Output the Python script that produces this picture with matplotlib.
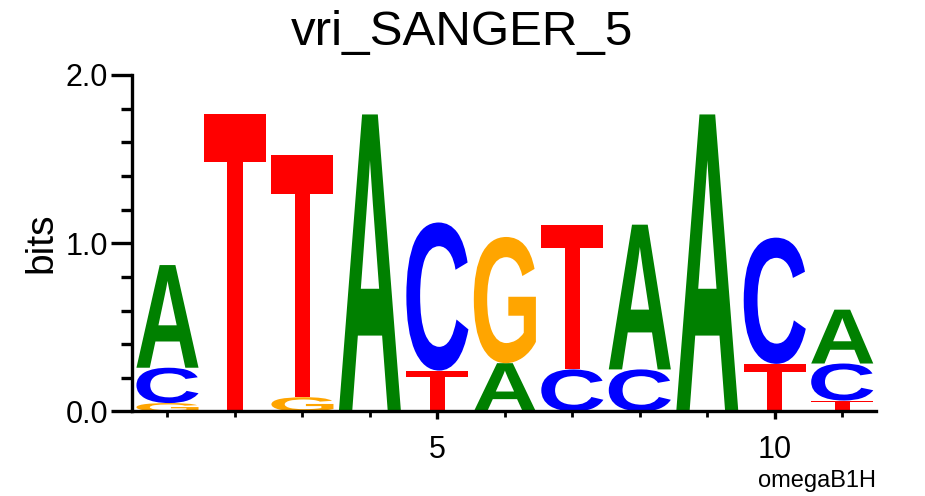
import matplotlib
matplotlib.use('Agg')
import matplotlib.pyplot as plt
from matplotlib.textpath import TextPath
from matplotlib.patches import PathPatch
from matplotlib.font_manager import FontProperties
from matplotlib.transforms import Affine2D
import matplotlib.ticker as ticker

# stacks per position, bottom to top: (letter, height in bits)
positions = [1, 2, 3, 4, 5, 6, 7, 8, 9, 10, 11]
stacks = [
    [('G', 0.05), ('C', 0.21), ('A', 0.61)],
    [('T', 1.765)],
    [('G', 0.085), ('T', 1.44)],
    [('A', 1.765)],
    [('T', 0.243), ('C', 0.88)],
    [('A', 0.287), ('G', 0.75)],
    [('C', 0.25), ('T', 0.86)],
    [('C', 0.25), ('A', 0.86)],
    [('A', 1.765)],
    [('T', 0.283), ('C', 0.75)],
    [('T', 0.065), ('C', 0.22), ('A', 0.32)],
]
colors = {'A': '#008000', 'C': '#0000ff', 'G': '#ffa500', 'T': '#ff0000'}

fig = plt.figure(figsize=(9.25, 4.96), dpi=100)
ax = fig.add_axes([0.1424, 0.1704, 0.9470 - 0.1424, 0.849 - 0.1704])

fp = FontProperties(family='Liberation Sans', weight='bold')
width = 0.92

# draw each letter stretched into its box
for pos, stack in zip(positions, stacks):
    y0 = 0.0
    for letter, h in stack:
        tp = TextPath((0, 0), letter, size=1, prop=fp)
        bb = tp.get_extents()
        tr = Affine2D().translate(-bb.x0, -bb.y0).scale(width / bb.width, h / bb.height).translate(pos - width / 2, y0)
        patch = PathPatch(tr.transform_path(tp), facecolor=colors[letter], edgecolor='none')
        ax.add_patch(patch)
        y0 += h

ax.set_xlim(0.47, 11.5)
ax.set_ylim(0, 2.0)

for s in ['top', 'right']:
    ax.spines[s].set_visible(False)
for s in ['left', 'bottom']:
    ax.spines[s].set_linewidth(2.4)

ax.yaxis.set_major_locator(ticker.FixedLocator([0, 1, 2]))
ax.yaxis.set_minor_locator(ticker.MultipleLocator(0.2))
ax.yaxis.set_major_formatter(ticker.FormatStrFormatter('%.1f'))
ax.xaxis.set_major_locator(ticker.FixedLocator([5, 10]))
ax.xaxis.set_minor_locator(ticker.FixedLocator(positions))

ax.tick_params(axis='y', which='major', length=15, width=2.4, labelsize=22, pad=2)
ax.tick_params(axis='y', which='minor', length=8, width=2.4)
ax.tick_params(axis='x', which='major', length=6, width=2.4, labelsize=22, pad=11)
ax.tick_params(axis='x', which='minor', length=4, width=2.0)
for lab in ax.get_xticklabels() + ax.get_yticklabels():
    lab.set_family('Liberation Sans')

ax.set_ylabel('bits', fontsize=28, family='Liberation Sans', labelpad=4)
fig.text(0.5, 0.935, 'vri_SANGER_5', ha='center', va='center', fontsize=35.5, family='Liberation Sans')
fig.text(0.947, 0.018, 'omegaB1H', ha='right', va='baseline', fontsize=17, family='Liberation Sans')

fig.savefig('out.png', dpi=100)
